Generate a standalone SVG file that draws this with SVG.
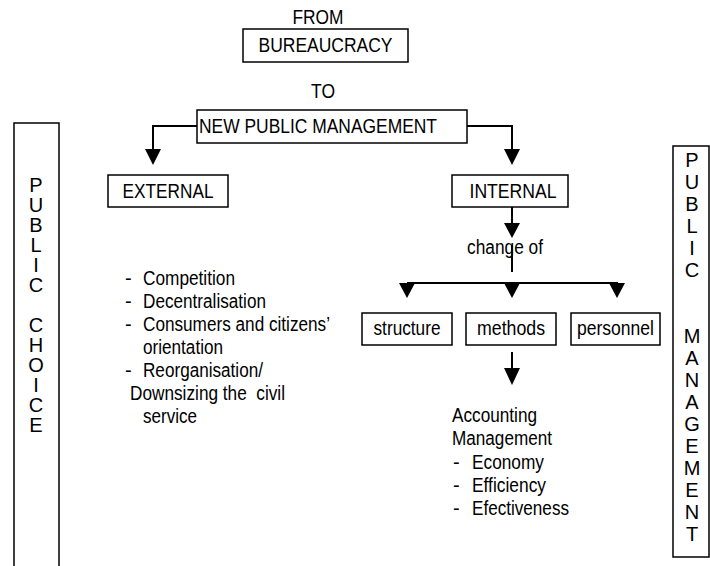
<svg xmlns="http://www.w3.org/2000/svg" width="710" height="566" viewBox="0 0 710 566">
<style>
text{font-family:"Liberation Sans Narrow","Arial Narrow","Liberation Sans",Arial,sans-serif;font-size:20px;fill:#000}
.box{fill:#fff;stroke:#000;stroke-width:1.5}
.ln{fill:none;stroke:#000;stroke-width:2}
.ah{fill:#000}
.c{text-anchor:middle}
.col{text-anchor:middle}
</style>
<rect width="710" height="566" fill="#fff"/>
<g id="connectors">
<path class="ln" d="M197,126 H153 V150"/>
<polygon class="ah" points="145,149 161,149 153,165"/>
<path class="ln" d="M467,126 H512 V150"/>
<polygon class="ah" points="504,149 520,149 512,165"/>
<path class="ln" d="M512,207 V224"/>
<polygon class="ah" points="504,223 520,223 512,238"/>
<path class="ln" d="M512,245 V272"/>
<path class="ln" d="M407,283 H618"/>
<polygon class="ah" points="399,283 415,283 407,298"/>
<polygon class="ah" points="504,283 520,283 512,298"/>
<polygon class="ah" points="609,283 625,283 617,298"/>
<path class="ln" d="M512,352 V369"/>
<polygon class="ah" points="504,368 520,368 512,385"/>
</g>
<g id="from"><text class="c" x="318" y="24" textLength="51" lengthAdjust="spacingAndGlyphs">FROM</text></g>
<g id="bureaucracy"><rect class="box" x="243" y="29" width="165" height="33"/><text class="c" x="325.5" y="52" textLength="134" lengthAdjust="spacingAndGlyphs">BUREAUCRACY</text></g>
<g id="to"><text class="c" x="323" y="98" textLength="24" lengthAdjust="spacingAndGlyphs">TO</text></g>
<g id="npm"><rect class="box" x="197" y="110" width="270" height="33"/><text x="199" y="133" textLength="238" lengthAdjust="spacingAndGlyphs">NEW PUBLIC MANAGEMENT</text></g>
<g id="external"><rect class="box" x="108" y="175" width="120" height="32"/><text class="c" x="168" y="198" textLength="91" lengthAdjust="spacingAndGlyphs">EXTERNAL</text></g>
<g id="internal"><rect class="box" x="452" y="175" width="116" height="32"/><text class="c" x="513" y="198" textLength="87" lengthAdjust="spacingAndGlyphs">INTERNAL</text></g>
<g id="change"><text class="c" x="505" y="254" textLength="76" lengthAdjust="spacingAndGlyphs">change of</text></g>
<g id="structure"><rect class="box" x="362" y="313" width="90" height="32"/><text class="c" x="407" y="335" textLength="67" lengthAdjust="spacingAndGlyphs">structure</text></g>
<g id="methods"><rect class="box" x="466" y="313" width="90" height="32"/><text class="c" x="511" y="335" textLength="68" lengthAdjust="spacingAndGlyphs">methods</text></g>
<g id="personnel"><rect class="box" x="571" y="313" width="89" height="32"/><text class="c" x="615.5" y="335" textLength="77" lengthAdjust="spacingAndGlyphs">personnel</text></g>
<g id="external-list">
<text x="125" y="285">-</text><text x="143" y="285" textLength="92" lengthAdjust="spacingAndGlyphs">Competition</text>
<text x="125" y="308">-</text><text x="143" y="308" textLength="123" lengthAdjust="spacingAndGlyphs">Decentralisation</text>
<text x="125" y="331">-</text><text x="143" y="331" textLength="187" lengthAdjust="spacingAndGlyphs">Consumers and citizens’</text>
<text x="143" y="354" textLength="80" lengthAdjust="spacingAndGlyphs">orientation</text>
<text x="125" y="377">-</text><text x="143" y="377" textLength="120" lengthAdjust="spacingAndGlyphs">Reorganisation/</text>
<text x="130" y="400" xml:space="preserve" textLength="155" lengthAdjust="spacingAndGlyphs">Downsizing the  civil</text>
<text x="143" y="423" textLength="54" lengthAdjust="spacingAndGlyphs">service</text>
</g>
<g id="methods-list">
<text x="452" y="422" textLength="85" lengthAdjust="spacingAndGlyphs">Accounting</text>
<text x="452" y="445" textLength="100" lengthAdjust="spacingAndGlyphs">Management</text>
<text x="453" y="469">-</text><text x="472" y="469" textLength="72" lengthAdjust="spacingAndGlyphs">Economy</text>
<text x="453" y="492">-</text><text x="472" y="492" textLength="74" lengthAdjust="spacingAndGlyphs">Efficiency</text>
<text x="453" y="515">-</text><text x="472" y="515" textLength="97" lengthAdjust="spacingAndGlyphs">Efectiveness</text>
</g>
<g id="public-choice">
<rect class="box" x="14" y="123" width="45" height="450"/>
<text class="col" x="36" y="192">P</text>
<text class="col" x="36" y="212">U</text>
<text class="col" x="36" y="232">B</text>
<text class="col" x="36" y="252">L</text>
<text class="col" x="36" y="272">I</text>
<text class="col" x="36" y="292">C</text>
<text class="col" x="36" y="332">C</text>
<text class="col" x="36" y="352">H</text>
<text class="col" x="36" y="372">O</text>
<text class="col" x="36" y="392">I</text>
<text class="col" x="36" y="412">C</text>
<text class="col" x="36" y="432">E</text>
</g>
<g id="public-management">
<rect class="box" x="673" y="146" width="36" height="411"/>
<text class="col" x="692" y="167">P</text>
<text class="col" x="692" y="189">U</text>
<text class="col" x="692" y="211">B</text>
<text class="col" x="692" y="233">L</text>
<text class="col" x="692" y="255">I</text>
<text class="col" x="692" y="277">C</text>
<text class="col" x="692" y="343">M</text>
<text class="col" x="692" y="365">A</text>
<text class="col" x="692" y="387">N</text>
<text class="col" x="692" y="409">A</text>
<text class="col" x="692" y="431">G</text>
<text class="col" x="692" y="453">E</text>
<text class="col" x="692" y="475">M</text>
<text class="col" x="692" y="497">E</text>
<text class="col" x="692" y="519">N</text>
<text class="col" x="692" y="541">T</text>
</g>
</svg>
